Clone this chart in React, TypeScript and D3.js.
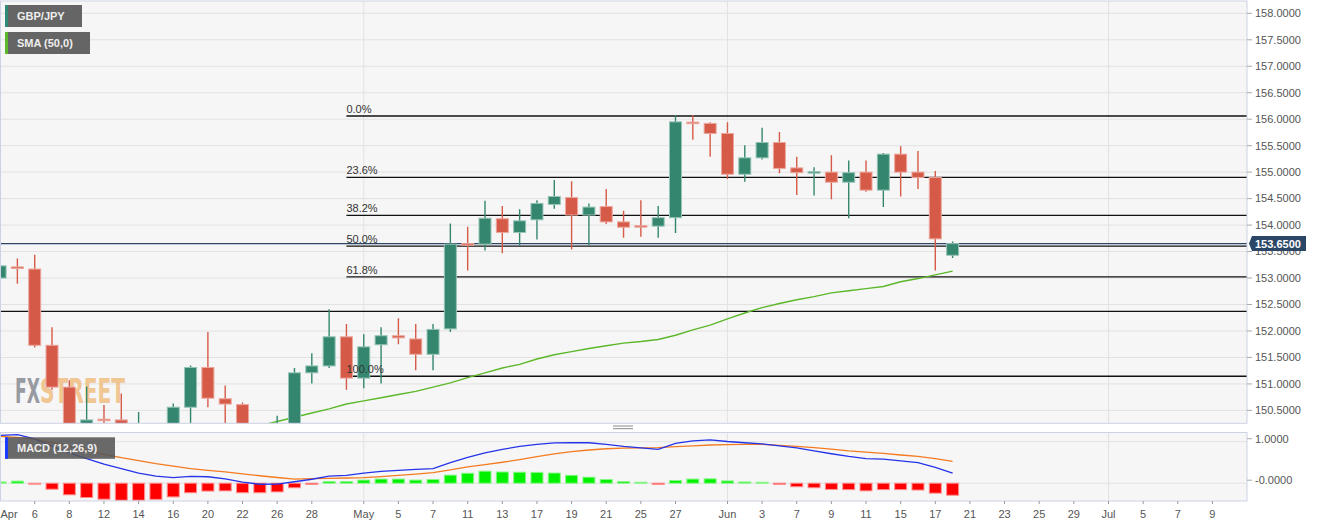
import React from 'react';
import * as d3 from 'd3';

const W = 1323;
const H = 527;

// Trading calendar (Mon–Fri) used by the x axis
const tradingDays: Date[] = d3.timeDay
  .range(new Date(2021, 3, 1), new Date(2021, 6, 10))
  .filter((d) => d.getDay() !== 0 && d.getDay() !== 6);
const fmtDay = d3.timeFormat('%Y-%m-%d');
const dayIndex = (s: string) => tradingDays.findIndex((d) => fmtDay(d) === s);

// Candles start on 2021-04-02
const firstCandle = '2021-04-02';
const open = [153.00, 153.21, 153.17, 151.73, 150.94, 150.05, 150.33, 150.32, 150.00, 150.20, 150.05, 150.56, 151.31, 150.72, 150.61, 150.10, 150.15, 150.22, 151.21, 151.34, 151.89, 151.11, 151.74, 151.91, 151.85, 151.56, 152.04, 153.65, 153.64, 154.12, 153.86, 154.10, 154.39, 154.52, 154.19, 154.35, 154.06, 153.98, 153.98, 154.14, 155.94, 155.92, 155.73, 154.96, 155.27, 155.56, 155.08, 154.99, 155.00, 154.81, 155.00, 154.66, 155.34, 155.00, 154.90, 153.43];
const high = [153.25, 153.37, 153.44, 152.07, 151.07, 150.95, 150.60, 150.82, 150.47, 150.24, 150.63, 151.35, 151.98, 150.97, 150.65, 150.22, 150.40, 151.30, 151.58, 152.41, 152.13, 151.94, 152.07, 152.24, 152.13, 152.13, 154.03, 153.97, 154.46, 154.36, 154.30, 154.47, 154.85, 154.83, 154.41, 154.68, 154.27, 154.47, 154.36, 156.08, 156.08, 155.94, 155.94, 155.51, 155.84, 155.76, 155.29, 155.09, 155.32, 155.22, 155.22, 155.36, 155.49, 155.40, 155.02, 153.69];
const low = [152.72, 152.89, 151.69, 150.89, 150.00, 149.95, 150.10, 149.90, 149.90, 149.95, 149.95, 150.22, 150.56, 150.25, 149.95, 149.95, 150.00, 150.12, 151.01, 151.30, 150.89, 150.92, 151.01, 151.75, 151.26, 151.26, 151.98, 153.14, 153.52, 153.47, 153.61, 153.73, 154.31, 153.54, 153.62, 154.02, 153.76, 153.78, 153.76, 153.85, 155.61, 155.29, 154.87, 154.82, 155.24, 154.98, 154.57, 154.56, 154.49, 154.13, 154.63, 154.34, 154.54, 154.68, 153.14, 153.38];
const close = [153.23, 153.18, 151.73, 150.94, 150.15, 150.32, 150.31, 150.00, 150.20, 150.05, 150.56, 151.31, 150.73, 150.62, 150.10, 150.15, 150.22, 151.21, 151.34, 151.89, 151.11, 151.70, 151.91, 151.87, 151.56, 152.03, 153.64, 153.62, 154.13, 153.86, 154.08, 154.41, 154.54, 154.19, 154.34, 154.06, 153.96, 153.97, 154.14, 155.95, 155.92, 155.73, 154.96, 155.27, 155.56, 155.07, 154.99, 155.00, 154.81, 154.99, 154.66, 155.34, 155.00, 154.90, 153.74, 153.65];

// SMA(50) – values visible from 2021-04-22 onward
const smaStart = '2021-04-22';
const sma50 = [150.13, 150.21, 150.29, 150.37, 150.45, 150.53, 150.62, 150.68, 150.74, 150.80, 150.86, 150.94, 151.02, 151.12, 151.21, 151.30, 151.37, 151.47, 151.55, 151.61, 151.67, 151.72, 151.77, 151.80, 151.84, 151.92, 152.02, 152.11, 152.23, 152.34, 152.44, 152.52, 152.59, 152.65, 152.72, 152.76, 152.80, 152.84, 152.93, 152.99, 153.06, 153.13];

// MACD (12,26,9), aligned with candles
const macdLine = [1.15, 1.17, 1.07, 0.89, 0.73, 0.59, 0.46, 0.35, 0.245, 0.17, 0.135, 0.165, 0.155, 0.105, 0.025, -0.025, -0.02, 0.035, 0.095, 0.17, 0.19, 0.245, 0.285, 0.31, 0.335, 0.35, 0.495, 0.62, 0.73, 0.815, 0.885, 0.935, 0.97, 0.975, 0.975, 0.935, 0.885, 0.85, 0.815, 0.96, 1.02, 1.045, 1.005, 0.975, 0.95, 0.90, 0.85, 0.78, 0.71, 0.645, 0.59, 0.58, 0.54, 0.495, 0.38, 0.245];
const signalLine = [1.13, 1.105, 1.06, 0.98, 0.89, 0.79, 0.695, 0.615, 0.545, 0.47, 0.41, 0.35, 0.31, 0.275, 0.225, 0.18, 0.137, 0.10, 0.11, 0.115, 0.125, 0.135, 0.16, 0.19, 0.22, 0.255, 0.32, 0.395, 0.45, 0.505, 0.57, 0.64, 0.705, 0.76, 0.80, 0.83, 0.845, 0.85, 0.855, 0.88, 0.90, 0.92, 0.93, 0.935, 0.935, 0.91, 0.885, 0.855, 0.82, 0.78, 0.75, 0.72, 0.68, 0.645, 0.59, 0.525];
const histogram = [0.03, 0.05, -0.02, -0.145, -0.28, -0.345, -0.385, -0.41, -0.41, -0.39, -0.33, -0.23, -0.19, -0.185, -0.23, -0.23, -0.21, -0.11, -0.03, 0.04, 0.04, 0.075, 0.10, 0.10, 0.075, 0.09, 0.195, 0.24, 0.29, 0.27, 0.265, 0.26, 0.245, 0.19, 0.145, 0.09, 0.04, 0.01, -0.03, 0.065, 0.10, 0.105, 0.055, 0.03, 0.01, -0.03, -0.085, -0.11, -0.15, -0.155, -0.185, -0.155, -0.155, -0.165, -0.24, -0.29];

// Fibonacci retracement
const fibHigh = 156.06;
const fibLow = 151.145;
const fibLevels = [0, 23.6, 38.2, 50, 61.8, 100];
const fibStart = '2021-04-30';
const extraLine = 152.37;
const lastPrice = 153.65;

// Axis ticks
const priceTicks = [150.5, 151, 151.5, 152, 152.5, 153, 153.5, 154, 154.5, 155, 155.5, 156, 156.5, 157, 157.5, 158];
const macdTicks = [1, 0];
const macdTickLabels = ['1.0000', '-0.0000'];
const tickLabels = ['Apr', '6', '8', '12', '14', '16', '20', '22', '26', '28', 'May', '5', '7', '11', '13', '17', '19', '21', '25', '27', 'Jun', '3', '7', '9', '11', '15', '17', '21', '23', '25', '29', 'Jul', '5', '7', '9'];
const tickDates = ['2021-04-01', '2021-04-06', '2021-04-08', '2021-04-12', '2021-04-14', '2021-04-16', '2021-04-20', '2021-04-22', '2021-04-26', '2021-04-28', '2021-05-03', '2021-05-05', '2021-05-07', '2021-05-11', '2021-05-13', '2021-05-17', '2021-05-19', '2021-05-21', '2021-05-25', '2021-05-27', '2021-06-01', '2021-06-03', '2021-06-07', '2021-06-09', '2021-06-11', '2021-06-15', '2021-06-17', '2021-06-21', '2021-06-23', '2021-06-25', '2021-06-29', '2021-07-01', '2021-07-05', '2021-07-07', '2021-07-09'];
const monthStarts = ['2021-05-03', '2021-06-01', '2021-07-01'];

const FONT = "'Liberation Sans', Arial, sans-serif";
const UP = '#34866f';
const DOWN = '#d65a48';
const UP_STROKE = '#96c4b6';
const DOWN_STROKE = '#eca79d';

export default function App() {
  const plotL = 0.5;
  const plotR = 1247;
  const mainT = 1;
  const mainB = 423.3;
  const macdT = 432.5;
  const macdB = 501;

  const x = d3.scaleLinear().domain([3, 71]).range([34.7, 1212.4]);
  const yP = d3.scaleLinear().domain([150.5, 158]).range([410.4, 13.3]);
  const yM = d3.scaleLinear().domain([0, 1]).range([483.2, 441.7]);

  const c0 = dayIndex(firstCandle);
  const s0 = dayIndex(smaStart);
  const f0 = dayIndex(fibStart);

  const candles = open.map((o, k) => ({ i: c0 + k, o, h: high[k], l: low[k], c: close[k] }));

  const smaPath = d3
    .line<number>()
    .x((_, k) => x(s0 + k))
    .y((v) => yP(v))(sma50);

  const macdPath = d3
    .line<number>()
    .x((_, k) => x(c0 + k))
    .y((v) => yM(v))(macdLine);
  const sigPath = d3
    .line<number>()
    .x((_, k) => x(c0 + k))
    .y((v) => yM(v))(signalLine);

  const bodyW = 12;
  const gridColor = '#e2e2e2';
  const borderColor = '#cdd3e4';
  const fibValue = (p: number) => fibHigh - ((fibHigh - fibLow) * p) / 100;

  return (
    <svg
      width={W}
      height={H}
      style={{ position: 'absolute', left: 0, top: 0, background: '#fff' }}
      fontFamily={FONT}
    >
      <defs>
        <clipPath id="clipMain">
          <rect x={plotL} y={mainT} width={plotR - plotL} height={mainB - mainT} />
        </clipPath>
        <clipPath id="clipMacd">
          <rect x={plotL} y={macdT} width={plotR - plotL} height={macdB - macdT} />
        </clipPath>
      </defs>

      {/* panel backgrounds */}
      <rect x={plotL} y={mainT} width={plotR - plotL} height={mainB - mainT} fill="#f6f6f6" />
      <rect x={plotL} y={macdT} width={plotR - plotL} height={macdB - macdT} fill="#f6f6f6" />

      {/* main grid */}
      <g clipPath="url(#clipMain)">
        {priceTicks.map((t) => (
          <line key={t} x1={plotL} x2={plotR} y1={yP(t)} y2={yP(t)} stroke={gridColor} strokeWidth={1} />
        ))}
        {monthStarts.map((m) => (
          <line key={m} x1={x(dayIndex(m))} x2={x(dayIndex(m))} y1={mainT} y2={mainB} stroke={gridColor} strokeWidth={1} />
        ))}
        {/* watermark */}
        <g opacity={0.9}>
          <text x={15} y={403} fontSize={34} fontWeight="bold" fill="#8d9197" textLength={25} lengthAdjust="spacingAndGlyphs" fontFamily="'DejaVu Sans', sans-serif">
            FX
          </text>
          <text x={40} y={403} fontSize={34} fontWeight="bold" fill="#f0c188" textLength={85} lengthAdjust="spacingAndGlyphs" fontFamily="'DejaVu Sans', sans-serif">
            STREET
          </text>
        </g>
      </g>

      {/* MACD grid */}
      <g clipPath="url(#clipMacd)">
        {macdTicks.map((t) => (
          <line key={t} x1={plotL} x2={plotR} y1={yM(t)} y2={yM(t)} stroke={gridColor} strokeWidth={1} />
        ))}
        {monthStarts.map((m) => (
          <line key={m} x1={x(dayIndex(m))} x2={x(dayIndex(m))} y1={macdT} y2={macdB} stroke={gridColor} strokeWidth={1} />
        ))}
      </g>

      {/* main content */}
      <g clipPath="url(#clipMain)">
        {/* horizontal support line */}
        <line x1={plotL} x2={plotR} y1={yP(extraLine)} y2={yP(extraLine)} stroke="#111" strokeWidth={1.3} />
        {/* fib lines */}
        {fibLevels.map((p) => (
          <line key={p} x1={x(f0)} x2={plotR} y1={yP(fibValue(p))} y2={yP(fibValue(p))} stroke="#111" strokeWidth={1.3} />
        ))}
        {/* price line */}
        <line x1={plotL} x2={plotR} y1={yP(lastPrice)} y2={yP(lastPrice)} stroke="#2c4667" strokeWidth={1.2} />

        {/* SMA */}
        <path d={smaPath || ''} fill="none" stroke="#5cb82a" strokeWidth={1.4} />

        {/* candles */}
        {candles.map((d) => {
          const up = d.c >= d.o;
          const cx = x(d.i);
          const top = yP(Math.max(d.o, d.c));
          const bot = yP(Math.min(d.o, d.c));
          const hgt = Math.max(bot - top, 1.5);
          return (
            <g key={d.i}>
              <line x1={cx} x2={cx} y1={yP(d.h)} y2={yP(d.l)} stroke={up ? UP : DOWN} strokeWidth={1.4} />
              <rect
                x={cx - bodyW / 2}
                y={top - (hgt - (bot - top)) / 2}
                width={bodyW}
                height={hgt}
                fill={up ? UP : DOWN}
                stroke={up ? UP_STROKE : DOWN_STROKE}
                strokeWidth={1}
              />
            </g>
          );
        })}

        {/* fib labels on top */}
        {fibLevels.map((p) => (
          <text key={p} x={x(f0)} y={yP(fibValue(p)) - 3} fontSize={11} fill="#333">
            {p.toFixed(1) + '%'}
          </text>
        ))}
      </g>

      {/* MACD content */}
      <g clipPath="url(#clipMacd)">
        {histogram.map((v, k) => {
          const cx = x(c0 + k);
          const y0 = yM(0);
          const y1 = yM(v);
          const hgt = Math.max(Math.abs(y1 - y0), 1);
          const pos = v >= 0;
          return (
            <rect
              key={k}
              x={cx - 6}
              y={pos ? y0 - hgt : y0}
              width={12}
              height={hgt}
              fill={pos ? '#00f000' : '#ff0000'}
              stroke={pos ? '#88f788' : '#ff9090'}
              strokeWidth={1}
            />
          );
        })}
        <path d={sigPath || ''} fill="none" stroke="#f47b20" strokeWidth={1.3} />
        <path d={macdPath || ''} fill="none" stroke="#2434e8" strokeWidth={1.3} />
      </g>

      {/* panel borders */}
      <rect x={plotL} y={mainT} width={plotR - plotL} height={mainB - mainT} fill="none" stroke={borderColor} strokeWidth={1} />
      <rect x={plotL} y={macdT} width={plotR - plotL} height={macdB - macdT} fill="none" stroke={borderColor} strokeWidth={1} />

      {/* splitter handle */}
      <line x1={613} x2={633} y1={426} y2={426} stroke="#8a8a8a" strokeWidth={1} />
      <line x1={613} x2={633} y1={428.7} y2={428.7} stroke="#8a8a8a" strokeWidth={1} />

      {/* price axis */}
      {priceTicks.map((t) => (
        <g key={t}>
          <line x1={plotR} x2={plotR + 5} y1={yP(t)} y2={yP(t)} stroke="#aaa" strokeWidth={1} />
          <text x={plotR + 8} y={yP(t)} dy="0.35em" fontSize={11} fill="#555">
            {t.toFixed(4)}
          </text>
        </g>
      ))}
      {/* last price label */}
      <g>
        <path
          d={`M${plotR + 2},${yP(lastPrice)} L${plotR + 5},${yP(lastPrice) - 7.5} L${plotR + 59},${yP(lastPrice) - 7.5} L${plotR + 59},${yP(lastPrice) + 7.5} L${plotR + 5},${yP(lastPrice) + 7.5} Z`}
          fill="#2c4667"
        />
        <text x={plotR + 8} y={yP(lastPrice)} dy="0.36em" fontSize={11} fontWeight="bold" fill="#fff">
          {lastPrice.toFixed(4)}
        </text>
      </g>

      {/* MACD axis */}
      {macdTicks.map((t, k) => (
        <g key={t}>
          <line x1={plotR} x2={plotR + 5} y1={yM(t) - 3} y2={yM(t) - 3} stroke="#aaa" strokeWidth={1} />
          <text x={plotR + 8} y={yM(t) - 3} dy="0.35em" fontSize={11} fill="#555">
            {macdTickLabels[k]}
          </text>
        </g>
      ))}

      {/* x axis */}
      {tickLabels.map((lab, k) => {
        const xi = x(dayIndex(tickDates[k]));
        const isFirst = k === 0;
        return (
          <g key={k}>
            {!isFirst && <line x1={xi} x2={xi} y1={macdB} y2={macdB + 3} stroke="#999" strokeWidth={1} />}
            <text x={isFirst ? 9 : xi} y={514} dy="0.35em" fontSize={11} fill="#555" textAnchor="middle">
              {lab}
            </text>
          </g>
        );
      })}

      {/* legends */}
      <g>
        <rect x={5} y={5} width={77} height={22} fill="#555" opacity={0.9} />
        <rect x={5} y={5} width={3} height={22} fill="#2f8a76" />
        <text x={17} y={16} dy="0.35em" fontSize={11} fontWeight="bold" fill="#eee">
          GBP/JPY
        </text>
      </g>
      <g>
        <rect x={5} y={32} width={85} height={22} fill="#555" opacity={0.9} />
        <rect x={5} y={32} width={3} height={22} fill="#5cb82a" />
        <text x={17} y={43} dy="0.35em" fontSize={11} fontWeight="bold" fill="#eee">
          SMA (50,0)
        </text>
      </g>
      <g>
        <rect x={5} y={437.3} width={110} height={21.5} fill="#555" opacity={0.88} />
        <rect x={5} y={437.3} width={3} height={21.5} fill="#1a3cff" />
        <text x={17} y={448} dy="0.35em" fontSize={11} fontWeight="bold" fill="#eee">
          MACD (12,26,9)
        </text>
      </g>
    </svg>
  );
}
